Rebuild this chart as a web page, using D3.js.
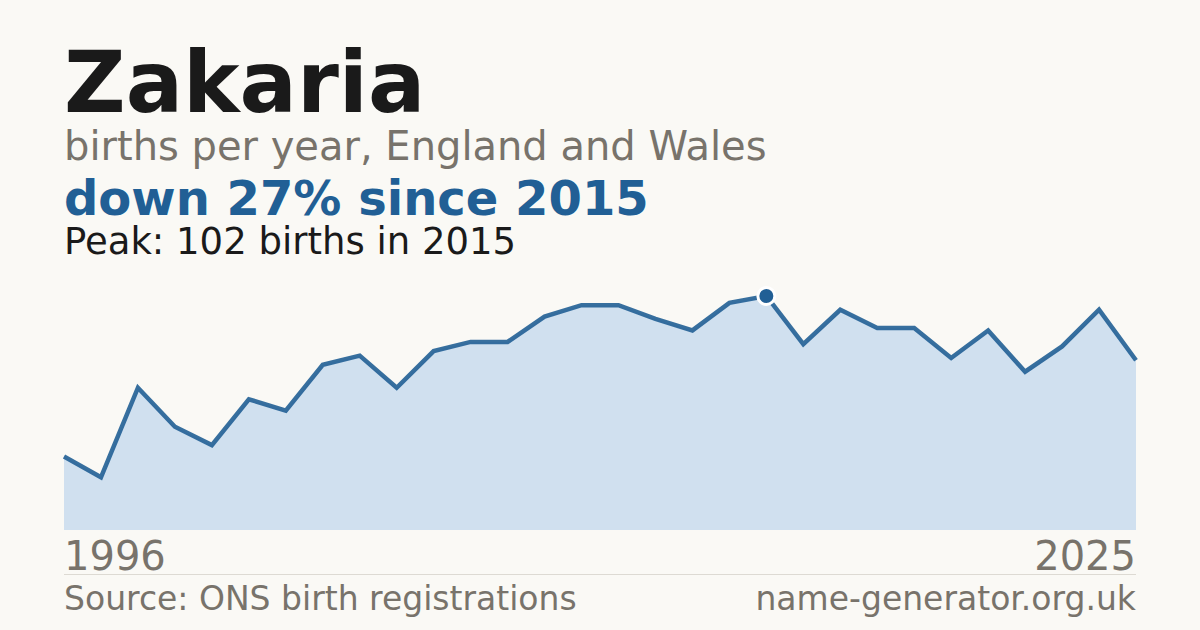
<!DOCTYPE html>
<html>
<head>
<meta charset="utf-8">
<script src="https://cdn.jsdelivr.net/npm/d3@7"></script>
<style>
  html, body { margin: 0; padding: 0; background: #faf9f5; }
  svg { display: block; font-family: "DejaVu Sans", sans-serif; }
</style>
</head>
<body>
<div id="chart"></div>
<script>
const width = 1200
const height = 630

const name = "Zakaria"
const years = d3.range(1996, 2026)
const births = [32, 23, 62, 45, 37, 57, 52, 72, 76, 62,
                78, 82, 82, 93, 98, 98, 92, 87, 99, 102,
                81, 96, 88, 88, 75, 87, 69, 80, 96, 74]
const xLabels = ["1996", "2025"]

const blue = "#215f95"
const grey = "#78736b"
const ink = "#1a1a1a"

const svg = d3.select("#chart")
  .append("svg")
  .attr("width", width)
  .attr("height", height)
  .attr("viewBox", [0, 0, width, height])

svg.append("rect")
  .attr("width", width)
  .attr("height", height)
  .attr("fill", "#faf9f5")

const x = d3.scaleLinear()
  .domain(d3.extent(years))
  .range([64, 1136])

const y = d3.scaleLinear()
  .domain([0, d3.max(births)])
  .range([530, 296])

const data = years.map((yr, i) => ({year: yr, value: births[i]}))
const peak = data.reduce((a, b) => b.value > a.value ? b : a)
const last = data[data.length - 1]
const change = Math.round((peak.value - last.value) / peak.value * 100)

// header text
svg.append("text")
  .attr("x", 64).attr("y", 112)
  .attr("font-size", 85).attr("font-weight", "bold")
  .attr("fill", ink)
  .text(name)

svg.append("text")
  .attr("x", 64).attr("y", 160)
  .attr("font-size", 40)
  .attr("fill", grey)
  .text("births per year, England and Wales")

svg.append("text")
  .attr("x", 64).attr("y", 215)
  .attr("font-size", 48).attr("font-weight", "bold")
  .attr("fill", blue)
  .text(`down ${change}% since ${peak.year}`)

svg.append("text")
  .attr("x", 64).attr("y", 254)
  .attr("font-size", 37)
  .attr("fill", ink)
  .text(`Peak: ${peak.value} births in ${peak.year}`)

// area + line
const area = d3.area()
  .x(d => x(d.year))
  .y0(y(0))
  .y1(d => y(d.value))

const line = d3.line()
  .x(d => x(d.year))
  .y(d => y(d.value))

svg.append("path")
  .datum(data)
  .attr("d", area)
  .attr("fill", "#d0e0ef")

svg.append("path")
  .datum(data)
  .attr("d", line)
  .attr("fill", "none")
  .attr("stroke", blue)
  .attr("stroke-width", 4.5)
  .attr("stroke-opacity", 0.9)
  .attr("stroke-linejoin", "miter")

svg.append("circle")
  .attr("cx", x(peak.year))
  .attr("cy", y(peak.value))
  .attr("r", 8.5)
  .attr("fill", blue)
  .attr("stroke", "#ffffff")
  .attr("stroke-width", 3)

// x labels
svg.append("text")
  .attr("x", x(years[0])).attr("y", 570)
  .attr("font-size", 40)
  .attr("fill", grey)
  .text(xLabels[0])

svg.append("text")
  .attr("x", x(years[years.length - 1])).attr("y", 570)
  .attr("text-anchor", "end")
  .attr("font-size", 40)
  .attr("fill", grey)
  .text(xLabels[1])

svg.append("line")
  .attr("x1", 64).attr("x2", 1136)
  .attr("y1", 574.5).attr("y2", 574.5)
  .attr("stroke", "#dddad3")
  .attr("stroke-width", 1)

// footer
svg.append("text")
  .attr("x", 64).attr("y", 610)
  .attr("font-size", 33)
  .attr("fill", grey)
  .text("Source: ONS birth registrations")

svg.append("text")
  .attr("x", 1136).attr("y", 610)
  .attr("text-anchor", "end")
  .attr("font-size", 33)
  .attr("fill", grey)
  .text("name-generator.org.uk")
</script>
</body>
</html>
